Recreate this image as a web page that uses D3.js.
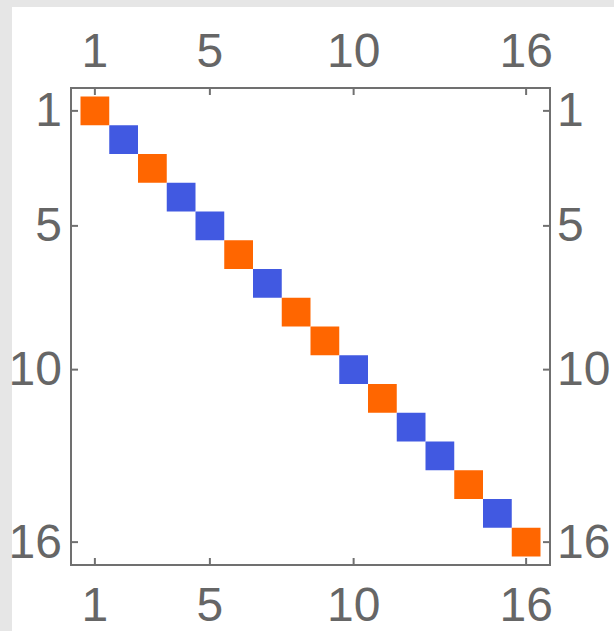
<!DOCTYPE html>
<html>
<head>
<meta charset="utf-8">
<script src="https://cdn.jsdelivr.net/npm/d3@7"></script>
<style>
  html, body { margin: 0; padding: 0; background: #e6e6e6; }
  svg { display: block; }
</style>
</head>
<body>
<svg id="chart" width="614" height="631"></svg>
<script>
// diagonal entries (row = column), sign of each entry
const idx = [1, 2, 3, 4, 5, 6, 7, 8, 9, 10, 11, 12, 13, 14, 15, 16];
const signs = [1, -1, 1, -1, -1, 1, -1, 1, 1, -1, 1, -1, -1, 1, -1, 1];
const tickLabels = [1, 5, 10, 16];

const svg = d3.select("#chart");

// white panel
svg.append("rect")
   .attr("x", 12).attr("y", 7)
   .attr("width", 614 - 12).attr("height", 631 - 7)
   .attr("fill", "#ffffff");

const frame = {left: 71, top: 88, right: 550, bottom: 565};

const x = d3.scaleBand().domain(idx).range([80.5, 540.5]);
const y = d3.scaleBand().domain(idx).range([96.5, 556.5]);

const color = v => v > 0 ? "#ff6600" : "#4159e1";

// cells
svg.append("g")
  .selectAll("rect")
  .data(idx.map((d, i) => ({i: d, v: signs[i]})))
  .enter().append("rect")
    .attr("x", d => x(d.i))
    .attr("y", d => y(d.i))
    .attr("width", x.bandwidth())
    .attr("height", y.bandwidth())
    .attr("fill", d => color(d.v));

// frame
svg.append("rect")
   .attr("x", frame.left).attr("y", frame.top)
   .attr("width", frame.right - frame.left)
   .attr("height", frame.bottom - frame.top)
   .attr("fill", "none")
   .attr("stroke", "#707070")
   .attr("stroke-width", 2);

function style(g) {
  g.select(".domain").remove();
  g.selectAll(".tick line").attr("stroke", "#707070").attr("stroke-width", 2);
  g.selectAll(".tick text")
   .attr("fill", "#666666")
   .style("font-family", "'Liberation Sans', Arial, sans-serif")
   .style("font-size", "48px");
}

svg.append("g")
   .attr("transform", `translate(0,${frame.top})`)
   .call(d3.axisTop(x).tickValues(tickLabels).tickSizeInner(-7).tickSizeOuter(0).tickPadding(21))
   .call(style);

svg.append("g")
   .attr("transform", `translate(0,${frame.bottom})`)
   .call(d3.axisBottom(x).tickValues(tickLabels).tickSizeInner(-7).tickSizeOuter(0).tickPadding(22))
   .call(style);

svg.append("g")
   .attr("transform", `translate(${frame.left},0)`)
   .call(d3.axisLeft(y).tickValues(tickLabels).tickSizeInner(-7).tickSizeOuter(0).tickPadding(9))
   .call(style);

svg.append("g")
   .attr("transform", `translate(${frame.right},0)`)
   .call(d3.axisRight(y).tickValues(tickLabels).tickSizeInner(-7).tickSizeOuter(0).tickPadding(7))
   .call(style);
</script>
</body>
</html>
